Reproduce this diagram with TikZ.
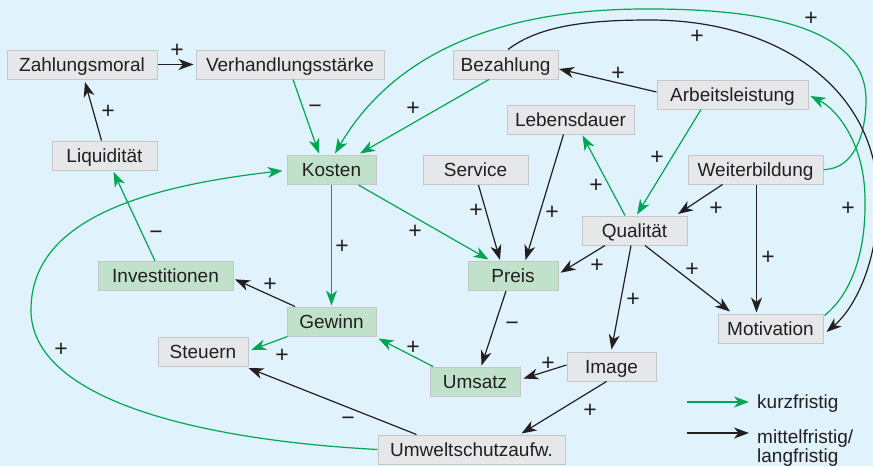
\documentclass[tikz,border=0pt]{standalone}
\usepackage{fontspec}
\setmainfont{Liberation Sans}
\usetikzlibrary{arrows.meta,calc}
\definecolor{bg}{HTML}{E0F2FB}
\definecolor{boxgray}{HTML}{E6E7E8}
\definecolor{boxline}{HTML}{C4C6C8}
\definecolor{boxgreen}{HTML}{C0E2CB}
\definecolor{shortterm}{HTML}{00A651}
\definecolor{ink}{HTML}{231F20}
\begin{document}
\begin{tikzpicture}[x=1pt,y=1pt,
  font=\fontsize{19}{20}\selectfont, text=ink,
  box/.style={draw=boxline, line width=1pt, fill=boxgray, inner sep=0pt,
    minimum height=29pt, text height=13.6pt, text depth=0pt},
  gbox/.style={box, fill=boxgreen},
  link/.style={line width=1.2pt, -{Stealth[length=15pt,width=11pt,inset=4.5pt]}},
  kf/.style={link, draw=shortterm},
  lf/.style={link, draw=ink},
  sign/.style={inner sep=0pt, font=\fontsize{23}{23}\selectfont,
    text height=16.2pt, text depth=0pt},
  legendtext/.style={inner sep=0pt, anchor=base west}]

% background and page frame
\fill[bg] (0,0) rectangle (873,-466);
\useasboundingbox (0,0) rectangle (873,-466);

% factors
\node[box,  minimum width=150pt] (zm) at (82,-64.5)    {Zahlungsmoral};
\node[box,  minimum width=188pt] (vh) at (290,-64.5)   {Verhandlungsstärke};
\node[box,  minimum width=105pt] (li) at (104.5,-155.5){Liquidität};
\node[gbox, minimum width=89pt]  (ko) at (331.5,-170)  {Kosten};
\node[box,  minimum width=105pt] (be) at (505.5,-64.5) {Bezahlung};
\node[box,  minimum width=151pt] (al) at (732.5,-94.5) {Arbeitsleistung};
\node[box,  minimum width=127pt] (ld) at (570.5,-119.5){Lebensdauer};
\node[box,  minimum width=105pt] (se) at (475.5,-170)  {Service};
\node[box,  minimum width=135pt] (wb) at (755.5,-169.5){Weiterbildung};
\node[box,  minimum width=105pt] (qu) at (634.5,-230.5){Qualität};
\node[gbox, minimum width=135pt] (in) at (165.5,-276)  {Investitionen};
\node[gbox, minimum width=89pt]  (ge) at (331.5,-321.5){Gewinn};
\node[box,  minimum width=90pt]  (st) at (203,-351.5)  {Steuern};
\node[gbox, minimum width=90pt]  (pr) at (513,-276)    {Preis};
\node[box,  minimum width=105pt] (mo) at (770.5,-328.5){Motivation};
\node[box,  minimum width=89pt]  (im) at (611.5,-366.5){Image};
\node[gbox, minimum width=90pt]  (um) at (475,-381.5)  {Umsatz};
\node[box,  minimum width=187pt] (uw) at (471.5,-449.5){Umweltschutzaufw.};

% short-term effects (green)
\draw[kf] ($(vh.south)+(3,0)$) -- ($(ko.north)+(-12.5,1.5)$);
\draw[kf] ($(be.south)+(-16.5,0)$) -- ($(ko.north)+(28.5,1.5)$);
\draw[kf] (wb.east) .. controls (855,-169.5) and (866,-132) .. (866,-100)
  .. controls (866,-20) and (740,-9) .. (650,-9)
  .. controls (460,-8) and (378,-80) .. ($(ko.north)+(3.5,1.5)$);
\draw[kf] ($(al.south)+(-31.5,0)$) -- ($(qu.north)+(2.5,1)$);
\draw[kf] ($(mo.north east)+(1,-2)$) .. controls (850,-295) and (866,-255) .. (865,-200)
  .. controls (865,-145) and (838,-110) .. ($(al.east)+(2,-1.5)$);
\draw[kf] ($(qu.north)+(-9.5,0)$) -- ($(ld.south)+(12,-1)$);
\draw[kf] ($(ko.south)+(27,0)$) -- ($(pr.north)+(-24.5,1.5)$);
\draw[kf] (ko.south) -- ($(ge.north)+(0,1)$);
\draw[kf] ($(um.north)+(-42,0)$) -- ($(ge.south east)+(2,-2)$);
\draw[kf] ($(ge.south west)+(1,0)$) -- ($(st.east)+(2.7,1.5)$);
\draw[kf] ($(in.north)+(-10.5,0)$) -- ($(li.south)+(9,-1.5)$);
\draw[kf] (uw.west) .. controls (200,-440) and (31,-400) .. (31,-310)
  .. controls (31,-225) and (130,-188) .. ($(ko.west)+(-4,-0.7)$);

% medium- and long-term effects (black)
\draw[lf] (zm.east) -- ($(vh.west)+(-2,0)$);
\draw[lf] ($(li.north)+(-3,0)$) -- ($(zm.south)+(3,-2.5)$);
\draw[lf] ($(be.north)+(2.5,0)$) .. controls (540,-25) and (590,-20) .. (650,-20)
  .. controls (780,-20) and (878,-90) .. (878,-200)
  .. controls (878,-260) and (856,-307) .. ($(mo.east)+(3,-3.5)$);
\draw[lf] ($(al.west)+(0,2.5)$) -- ($(be.east)+(0.5,-4.5)$);
\draw[lf] ($(wb.south)+(-33,0)$) -- ($(qu.north)+(43.5,1.5)$);
\draw[lf] ($(wb.south)+(1,0)$) -- ($(mo.north)+(-14,1)$);
\draw[lf] ($(ld.south)+(-7,0)$) -- ($(pr.north)+(12.5,1)$);
\draw[lf] ($(se.south)+(3,0)$) -- ($(pr.north)+(-13,1)$);
\draw[lf] ($(qu.south)+(-29.5,0)$) -- ($(pr.east)+(2,3.3)$);
\draw[lf] ($(qu.south)+(-3.5,0)$) -- ($(im.north)+(0,2)$);
\draw[lf] ($(qu.south)+(10.5,0)$) -- ($(mo.north)+(-40.5,2)$);
\draw[lf] ($(pr.south)+(-7,0)$) -- ($(um.north)+(6.5,1)$);
\draw[lf] ($(im.west)+(0,1.5)$) -- ($(um.east)+(3,3)$);
\draw[lf] ($(im.south)+(-5,0)$) -- ($(uw.north)+(50,1)$);
\draw[lf] ($(ge.north)+(-36.5,0)$) -- ($(in.east)+(1.5,-3.3)$);
\draw[lf] ($(uw.north)+(-55,0)$) -- ($(st.south east)+(0,-1.5)$);

% polarity of each effect
\node[sign] (p1)  at (177,-49)  {+};
\node[sign] (p2)  at (108,-110) {+};
\node[sign] (p3)  at (315,-105) {−};
\node[sign] (p4)  at (413,-107) {+};
\node[sign] (p5)  at (811,-17)  {+};
\node[sign] (p6)  at (697,-35)  {+};
\node[sign] (p7)  at (618,-72)  {+};
\node[sign] (p8)  at (657,-156) {+};
\node[sign] (p9)  at (848,-207) {+};
\node[sign] (p10) at (716,-207) {+};
\node[sign] (p11) at (768,-256) {+};
\node[sign] (p12) at (596,-184) {+};
\node[sign] (p13) at (552,-211) {+};
\node[sign] (p14) at (476,-209) {+};
\node[sign] (p15) at (415,-230) {+};
\node[sign] (p16) at (342,-245) {+};
\node[sign] (p17) at (597,-264) {+};
\node[sign] (p18) at (633,-298) {+};
\node[sign] (p19) at (692,-268) {+};
\node[sign] (p20) at (512,-322) {−};
\node[sign] (p21) at (548,-362) {+};
\node[sign] (p22) at (590,-409) {+};
\node[sign] (p23) at (413,-346) {+};
\node[sign] (p24) at (270,-283) {+};
\node[sign] (p25) at (282,-354) {+};
\node[sign] (p26) at (348,-417) {−};
\node[sign] (p27) at (156,-231) {−};
\node[sign] (p28) at (61,-348)  {+};

% legend
\coordinate (k1) at (687,-402);
\coordinate (k2) at (749,-402);
\coordinate (m1) at (687,-433);
\coordinate (m2) at (749,-433);
\draw[kf] (k1) -- (k2);
\draw[lf] (m1) -- (m2);
\node[legendtext] (kt)  at (757,-408.3) {kurzfristig};
\node[legendtext] (mt1) at (757,-443.3) {mittelfristig/};
\node[legendtext] (mt2) at (757,-462.7) {langfristig};
\end{tikzpicture}
\end{document}
